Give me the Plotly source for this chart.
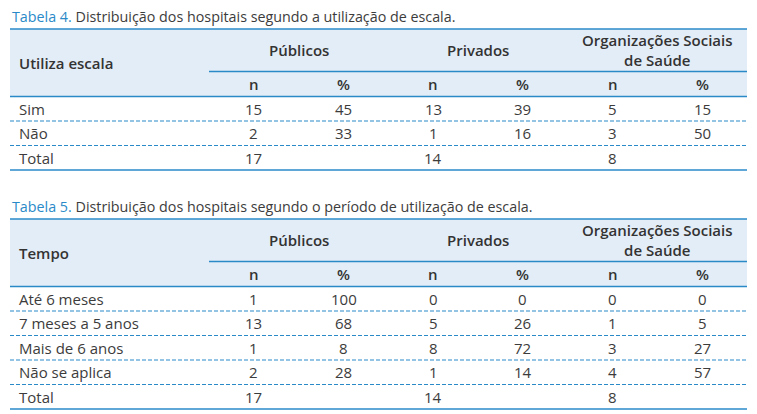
import plotly.graph_objects as go

# Tabela 4
t4_title = "Distribuição dos hospitais segundo a utilização de escala."
t4_label = "Utiliza escala"
t4_rows = ["Sim", "Não", "Total"]
t4_pub_n = [15, 2, 17]
t4_pub_pct = [45, 33, None]
t4_priv_n = [13, 1, 14]
t4_priv_pct = [39, 16, None]
t4_oss_n = [5, 3, 8]
t4_oss_pct = [15, 50, None]

# Tabela 5
t5_title = "Distribuição dos hospitais segundo o período de utilização de escala."
t5_label = "Tempo"
t5_rows = ["Até 6 meses", "7 meses a 5 anos", "Mais de 6 anos", "Não se aplica", "Total"]
t5_pub_n = [1, 13, 1, 2, 17]
t5_pub_pct = [100, 68, 8, 28, None]
t5_priv_n = [0, 5, 8, 1, 14]
t5_priv_pct = [0, 26, 72, 14, None]
t5_oss_n = [0, 1, 3, 4, 8]
t5_oss_pct = [0, 5, 27, 57, None]

groups = ["Públicos", "Privados", "Organizações Sociais<br>de Saúde"]
sub_cols = ["n", "%"]

BLUE = "#2a8ac8"
HEAD_BG = "#e3edf7"
TXT = "#3c3c3c"
FONT = "Open Sans"

X0, X1 = 10, 747
COL0 = 209
COLW = (X1 - COL0) / 6
ROWH = 24.5

fig = go.Figure()
fig.update_xaxes(range=[0, 757], visible=False, fixedrange=True)
fig.update_yaxes(range=[414, 0], visible=False, fixedrange=True)

shapes = []
annotations = []


def hline(y, x0=X0, dash="solid", width=1.5):
    shapes.append(dict(type="line", x0=x0, x1=X1, y0=y, y1=y,
                       line=dict(color=BLUE, width=width, dash=dash)))


def text(x, y, s, anchor="center", bold=False, size=15):
    annotations.append(dict(x=x, y=y, text=s, showarrow=False, xanchor=anchor,
                            yanchor="middle",
                            font=dict(family=FONT, size=size, color="#333333" if bold else TXT,
                                      weight=600 if bold else 400)))


def draw_table(top, num, title, label, rows, cols):
    text(X0, top - 13, "<span style='color:%s'>Tabela %d.</span> %s" % (BLUE, num, title),
         anchor="left", size=14.3)
    sub_y = top + 42.5
    head_bot = top + 67.5
    shapes.append(dict(type="rect", x0=X0, x1=X1, y0=top, y1=head_bot,
                       fillcolor=HEAD_BG, line=dict(width=0), layer="below"))
    hline(top)
    hline(sub_y, x0=COL0)
    hline(head_bot)
    text(X0 + 7, (top + head_bot) / 2, label, anchor="left", bold=True)
    for g, name in enumerate(groups):
        text(COL0 + COLW * (2 * g + 1), (top + sub_y) / 2, name, bold=True)
        for k, s in enumerate(sub_cols):
            text(COL0 + COLW * (2 * g + k + 0.5), (sub_y + head_bot) / 2, s, bold=True)
    for i, r in enumerate(rows):
        yc = head_bot + ROWH * (i + 0.5)
        text(X0 + 7, yc, r, anchor="left")
        for c, vals in enumerate(cols):
            if vals[i] is not None:
                text(COL0 + COLW * (c + 0.5), yc, str(vals[i]))
        yb = head_bot + ROWH * (i + 1)
        if i == len(rows) - 1:
            hline(yb)
        else:
            hline(yb, dash="4px,2px", width=1.2)


draw_table(29, 4, t4_title, t4_label, t4_rows,
           [t4_pub_n, t4_pub_pct, t4_priv_n, t4_priv_pct, t4_oss_n, t4_oss_pct])
draw_table(219, 5, t5_title, t5_label, t5_rows,
           [t5_pub_n, t5_pub_pct, t5_priv_n, t5_priv_pct, t5_oss_n, t5_oss_pct])

fig.update_layout(width=757, height=414, margin=dict(l=0, r=0, t=0, b=0),
                  plot_bgcolor="white", paper_bgcolor="white",
                  shapes=shapes, annotations=annotations, showlegend=False)
fig.write_html("out.html", config={"displayModeBar": False},
               post_script="document.body.style.margin='0';")
